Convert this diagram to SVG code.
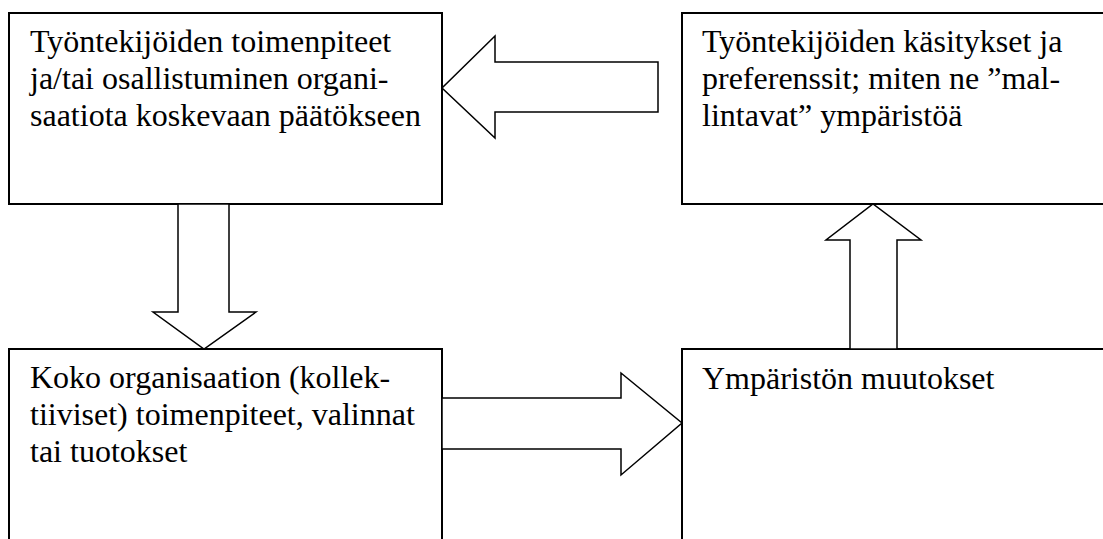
<svg xmlns="http://www.w3.org/2000/svg" width="1103" height="539" viewBox="0 0 1103 539">
<style>
.box{fill:#fff;stroke:#000;stroke-width:2}
.arr{fill:#fff;stroke:#000;stroke-width:1.5;stroke-linejoin:miter}
.t{font-family:'Times New Roman','Liberation Serif','DejaVu Serif',serif;font-size:32px;fill:#000}
</style>
<rect width="1103" height="539" fill="#fff"/>
<g id="node-tl"><rect class="box" x="9" y="13" width="433" height="191"/>
<text class="t" x="30" y="52">Työntekijöiden toimenpiteet</text>
<text class="t" x="30" y="89">ja/tai osallistuminen organi-</text>
<text class="t" x="30" y="126">saatiota koskevaan päätökseen</text></g>
<g id="node-tr"><rect class="box" x="682" y="13" width="440" height="191"/>
<text class="t" x="702" y="52">Työntekijöiden käsitykset ja</text>
<text class="t" x="702" y="89">preferenssit; miten ne ”mal-</text>
<text class="t" x="702" y="126">lintavat” ympäristöä</text></g>
<g id="node-bl"><rect class="box" x="9" y="349" width="433" height="210"/>
<text class="t" x="30" y="388">Koko organisaation (kollek-</text>
<text class="t" x="30" y="425">tiiviset) toimenpiteet, valinnat</text>
<text class="t" x="30" y="462">tai tuotokset</text></g>
<g id="node-br"><rect class="box" x="682" y="349" width="440" height="210"/>
<text class="t" x="702" y="389">Ympäristön muutokset</text></g>
<g id="connectors">
<polygon class="arr" points="658,62 495,62 495,36 442,88 495,138 495,112 658,112"/>
<polygon class="arr" points="178,204 229,204 229,312 256,312 204,349 153,312 178,312"/>
<polygon class="arr" points="850,349 897,349 897,240 921,240 873,204 826,240 850,240"/>
<polygon class="arr" points="442,398 621,398 621,373 682,423 621,475 621,449 442,449"/>
</g>
</svg>
